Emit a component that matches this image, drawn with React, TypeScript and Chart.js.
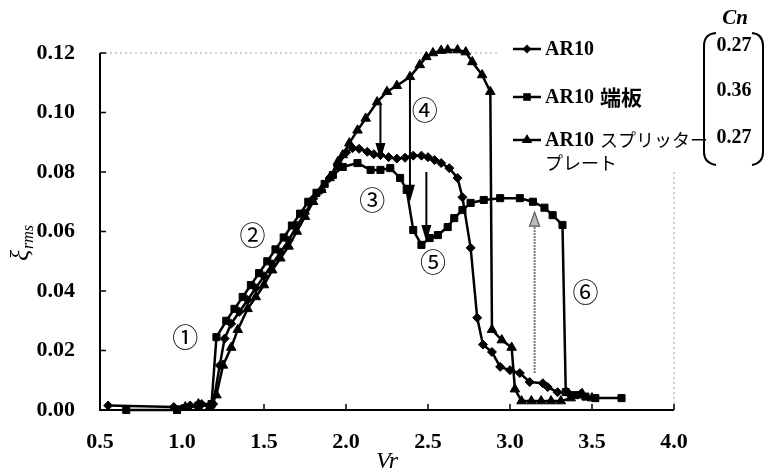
import React, { useEffect, useRef } from "react";
import { Chart, registerables } from "chart.js";

Chart.register(...registerables);

// ---------- data ----------
const arVr = [0.55, 0.95, 1.05, 1.12, 1.19, 1.23, 1.26, 1.3, 1.35, 1.4, 1.45, 1.5, 1.55, 1.6, 1.65, 1.7, 1.75, 1.8, 1.85, 1.9, 1.95, 2.0, 2.04, 2.08, 2.13, 2.17, 2.21, 2.26, 2.31, 2.36, 2.41, 2.46, 2.5, 2.54, 2.58, 2.63, 2.68, 2.71, 2.76, 2.8, 2.835, 2.89, 2.94, 3.0, 3.06, 3.12, 3.2, 3.23, 3.29, 3.35, 3.43];
const arXi = [0.0015, 0.001, 0.0015, 0.002, 0.002, 0.015, 0.024, 0.029, 0.033, 0.037, 0.041, 0.045, 0.049, 0.053, 0.057, 0.062, 0.066, 0.071, 0.074, 0.078, 0.082, 0.0865, 0.088, 0.0878, 0.0868, 0.086, 0.0857, 0.085, 0.0845, 0.0848, 0.0855, 0.0855, 0.085, 0.084, 0.083, 0.0813, 0.078, 0.0715, 0.0545, 0.031, 0.022, 0.0195, 0.0145, 0.0134, 0.0124, 0.0094, 0.009, 0.0077, 0.006, 0.006, 0.0054];

const epVr = [0.66, 0.97, 1.1, 1.18, 1.21, 1.27, 1.32, 1.37, 1.42, 1.47, 1.52, 1.57, 1.62, 1.67, 1.72, 1.77, 1.82, 1.87, 1.92, 1.98, 2.07, 2.15, 2.21, 2.27, 2.33, 2.37, 2.41, 2.46, 2.51, 2.56, 2.62, 2.66, 2.71, 2.76, 2.84, 2.94, 3.06, 3.14, 3.21, 3.26, 3.32, 3.34, 3.4, 3.46, 3.52, 3.68];
const epXi = [0.0, 0.0, 0.0015, 0.002, 0.0245, 0.03, 0.034, 0.038, 0.042, 0.046, 0.05, 0.054, 0.058, 0.062, 0.066, 0.07, 0.073, 0.076, 0.079, 0.0817, 0.083, 0.0807, 0.0807, 0.0813, 0.078, 0.074, 0.0605, 0.0555, 0.0578, 0.0588, 0.0615, 0.0645, 0.0672, 0.0696, 0.0706, 0.0712, 0.0712, 0.07, 0.068, 0.0655, 0.0622, 0.006, 0.005, 0.0045, 0.004, 0.004];

const spVr = [1.02, 1.1, 1.17, 1.21, 1.25, 1.3, 1.34, 1.4, 1.45, 1.5, 1.55, 1.6, 1.65, 1.7, 1.75, 1.8, 1.85, 1.9, 1.95, 1.98, 2.02, 2.07, 2.12, 2.19, 2.25, 2.31, 2.39, 2.45, 2.49, 2.53, 2.58, 2.62, 2.68, 2.73, 2.77, 2.83, 2.88, 2.89, 2.95, 3.01, 3.03, 3.07, 3.13, 3.19, 3.25, 3.31, 3.37, 3.44, 3.5];
const spXi = [0.001, 0.002, 0.001, 0.005, 0.015, 0.021, 0.027, 0.034, 0.038, 0.042, 0.047, 0.051, 0.055, 0.06, 0.065, 0.07, 0.074, 0.078, 0.0834, 0.0857, 0.0897, 0.094, 0.098, 0.1035, 0.107, 0.109, 0.112, 0.116, 0.1187, 0.12, 0.1208, 0.121, 0.121, 0.1203, 0.117, 0.1126, 0.107, 0.027, 0.0235, 0.021, 0.007, 0.003, 0.003, 0.003, 0.003, 0.003, 0.004, 0.0055, 0.004];

const xTicks = [0.5, 1.0, 1.5, 2.0, 2.5, 3.0, 3.5, 4.0];
const yTicks = [0, 0.02, 0.04, 0.06, 0.08, 0.1, 0.12];

const seriesLabels = ["AR10", "AR10 端板", "AR10 スプリッター"];
const seriesLabelLine2 = "プレート";
const cnTitle = "Cn";
const cnValues = ["0.27", "0.36", "0.27"];
const xTitle = "Vr";
const yTitleMain = "ξ";
const yTitleSub = "rms";

// circled annotations (data coordinates)
const circledText = ["①", "②", "③", "④", "⑤", "⑥"];
const circledVr = [1.02, 1.43, 2.16, 2.48, 2.53, 3.46];
const circledXi = [0.0245, 0.0588, 0.0706, 0.1008, 0.0497, 0.0397];

// downward black arrows (data coordinates)
const downArrowVr = [2.21, 2.39, 2.49];
const downArrowFrom = [0.1025, 0.112, 0.08];
const downArrowTo = [0.084, 0.07, 0.0565];
// upward gray arrow
const upArrowVr = [3.15];
const upArrowFrom = [0.0124];
const upArrowTo = [0.0665];

const borderTopEndVr = 2.93;
const borderRightStartXi = 0.08;

const SERIF = "'Liberation Serif', 'Times New Roman', serif";
const CJK = "'Noto Sans CJK JP', sans-serif";

function marker(ctx: CanvasRenderingContext2D, style: string, x: number, y: number) {
  ctx.beginPath();
  if (style === "diamond") {
    const r = 4.5;
    ctx.moveTo(x - r, y); ctx.lineTo(x, y - r); ctx.lineTo(x + r, y); ctx.lineTo(x, y + r);
  } else if (style === "square") {
    const s = 3.8;
    ctx.rect(x - s, y - s, 2 * s, 2 * s);
  } else {
    const r = 6;
    ctx.moveTo(x, y - r); ctx.lineTo(x + r * 0.866, y + r * 0.5); ctx.lineTo(x - r * 0.866, y + r * 0.5);
  }
  ctx.closePath();
  ctx.fill();
}

const decorPlugin = {
  id: "decor",
  beforeDatasetsDraw(chart: any) {
    const { ctx, chartArea, scales } = chart;
    const { left, right, top, bottom } = chartArea;
    const xs = scales.x, ys = scales.y;
    ctx.save();
    ctx.strokeStyle = "#a0a0a0";
    ctx.lineWidth = 1;
    ctx.setLineDash([2, 3]);
    ctx.beginPath();
    ctx.moveTo(left, top); ctx.lineTo(xs.getPixelForValue(borderTopEndVr), top);
    ctx.moveTo(right, ys.getPixelForValue(borderRightStartXi)); ctx.lineTo(right, bottom);
    ctx.stroke();
    ctx.setLineDash([]);
    ctx.strokeStyle = "#000";
    ctx.lineWidth = 2;
    ctx.beginPath();
    ctx.moveTo(left, top); ctx.lineTo(left, bottom); ctx.lineTo(right, bottom);
    ctx.stroke();
    ctx.lineWidth = 1.5;
    ctx.beginPath();
    for (const v of yTicks) { const py = ys.getPixelForValue(v); ctx.moveTo(left, py); ctx.lineTo(left + 6, py); }
    for (const v of xTicks) { const px = xs.getPixelForValue(v); ctx.moveTo(px, bottom); ctx.lineTo(px, bottom - 6); }
    ctx.stroke();
    ctx.restore();
  },
  afterDatasetsDraw(chart: any) {
    const { ctx, chartArea, scales } = chart;
    const { top, bottom } = chartArea;
    const xs = scales.x, ys = scales.y;
    ctx.save();
    // black down arrows
    ctx.strokeStyle = "#000"; ctx.fillStyle = "#000"; ctx.lineWidth = 2;
    downArrowVr.forEach((v, i) => {
      const px = xs.getPixelForValue(v);
      const y0 = ys.getPixelForValue(downArrowFrom[i]);
      const y1 = ys.getPixelForValue(downArrowTo[i]);
      ctx.beginPath(); ctx.moveTo(px, y0); ctx.lineTo(px, y1 - 12); ctx.stroke();
      ctx.beginPath(); ctx.moveTo(px, y1); ctx.lineTo(px - 5, y1 - 17); ctx.lineTo(px + 5, y1 - 17); ctx.closePath(); ctx.fill();
    });
    // gray up arrow
    upArrowVr.forEach((v, i) => {
      const px = xs.getPixelForValue(v);
      const y0 = ys.getPixelForValue(upArrowFrom[i]);
      const y1 = ys.getPixelForValue(upArrowTo[i]);
      ctx.strokeStyle = "#777"; ctx.lineWidth = 2; ctx.setLineDash([2, 1]);
      ctx.beginPath(); ctx.moveTo(px, y0); ctx.lineTo(px, y1 + 12); ctx.stroke();
      ctx.setLineDash([]);
      ctx.fillStyle = "#bbb"; ctx.lineWidth = 1.2; ctx.strokeStyle = "#555";
      ctx.beginPath(); ctx.moveTo(px, y1); ctx.lineTo(px - 5, y1 + 14); ctx.lineTo(px + 5, y1 + 14); ctx.closePath(); ctx.fill(); ctx.stroke();
    });
    // circled numbers
    ctx.fillStyle = "#000";
    ctx.font = `26px ${CJK}`;
    ctx.textAlign = "center"; ctx.textBaseline = "middle";
    circledText.forEach((t, i) => {
      ctx.fillText(t, xs.getPixelForValue(circledVr[i]), ys.getPixelForValue(circledXi[i]));
    });
    // x title
    ctx.font = `italic 24px ${SERIF}`;
    ctx.textAlign = "center"; ctx.textBaseline = "middle";
    ctx.fillText(xTitle, (chartArea.left + chartArea.right) / 2, 462);
    // y title rotated
    ctx.save();
    ctx.translate(24, (top + bottom) / 2 + 12);
    ctx.rotate(-Math.PI / 2);
    ctx.textAlign = "left"; ctx.textBaseline = "middle";
    ctx.font = `italic 26px ${SERIF}`;
    const wMain = ctx.measureText(yTitleMain).width;
    ctx.font = `italic 16px ${SERIF}`;
    const subW = ctx.measureText(yTitleSub).width;
    const start = -(wMain + subW) / 2;
    ctx.font = `italic 26px ${SERIF}`;
    ctx.fillText(yTitleMain, start, -3);
    ctx.font = `italic 16px ${SERIF}`;
    ctx.fillText(yTitleSub, start + wMain + 1, 5);
    ctx.restore();
    // legend
    const legendY = [49, 97, 140];
    const styles = ["diamond", "square", "triangle"];
    ctx.strokeStyle = "#000"; ctx.fillStyle = "#000"; ctx.lineWidth = 2.5;
    legendY.forEach((ly, i) => {
      ctx.beginPath(); ctx.moveTo(513, ly); ctx.lineTo(541, ly); ctx.stroke();
      marker(ctx, styles[i], 527, ly);
      const label = seriesLabels[i];
      const latin = label.split(" ")[0];
      const rest = label.includes(" ") ? label.slice(latin.length + 1) : "";
      ctx.textAlign = "left"; ctx.textBaseline = "middle";
      ctx.font = `bold 20px ${SERIF}`;
      ctx.fillText(latin, 545, ly + 1);
      if (rest) {
        const w = ctx.measureText(latin + " ").width;
        ctx.font = i === 1 ? `bold 21px ${CJK}` : `18px ${CJK}`;
        ctx.fillText(rest, 545 + w + 1, ly);
      }
    });
    ctx.font = `18px ${CJK}`;
    ctx.textAlign = "left"; ctx.textBaseline = "middle";
    ctx.fillText(seriesLabelLine2, 545, 163);
    // Cn bracket
    ctx.font = `italic bold 21px ${SERIF}`;
    ctx.textAlign = "center";
    ctx.fillText(cnTitle, 735, 19);
    ctx.font = `bold 20px ${SERIF}`;
    const cnY = [45, 90, 137];
    cnValues.forEach((t, i) => ctx.fillText(t, 734, cnY[i] + 1));
    ctx.lineWidth = 2;
    ctx.beginPath();
    ctx.moveTo(716, 33); ctx.quadraticCurveTo(704, 34, 704, 46); ctx.lineTo(704, 152); ctx.quadraticCurveTo(704, 163, 716, 165);
    ctx.moveTo(752, 33); ctx.quadraticCurveTo(763, 34, 763, 46); ctx.lineTo(763, 152); ctx.quadraticCurveTo(763, 163, 752, 165);
    ctx.stroke();
    ctx.restore();
  },
};

const toPts = (xs: number[], ys: number[]) => xs.map((x, i) => ({ x, y: ys[i] }));

export default function App() {
  const ref = useRef<HTMLCanvasElement>(null);
  useEffect(() => {
    document.body.style.margin = "0";
    const canvas = ref.current!;
    const common = {
      showLine: true,
      borderColor: "#000",
      backgroundColor: "#000",
      pointBorderColor: "#000",
      pointBackgroundColor: "#000",
      borderWidth: 2.5,
      pointBorderWidth: 1,
      clip: false as any,
      tension: 0,
    };
    const chart = new Chart(canvas, {
      type: "scatter",
      data: {
        datasets: [
          { ...common, label: seriesLabels[0], data: toPts(arVr, arXi), pointStyle: "rectRot", pointRadius: 4.5 },
          { ...common, label: seriesLabels[1], data: toPts(epVr, epXi), pointStyle: "rect", pointRadius: 5 },
          { ...common, label: seriesLabels[2], data: toPts(spVr, spXi), pointStyle: "triangle", pointRadius: 5.5 },
        ],
      },
      options: {
        responsive: false,
        animation: false,
        devicePixelRatio: 1,
        layout: { padding: { top: 53, right: 96, left: 0, bottom: 0 } },
        plugins: { legend: { display: false }, tooltip: { enabled: false } },
        scales: {
          x: {
            type: "linear",
            min: 0.5,
            max: 4.0,
            afterBuildTicks: (s: any) => { s.ticks = xTicks.map((v) => ({ value: v })); },
            afterFit: (s: any) => { s.height = 63; },
            ticks: {
              callback: (v: any) => Number(v).toFixed(1),
              font: { family: SERIF, size: 22, weight: "bold" },
              color: "#000",
              padding: 19,
              maxRotation: 0,
              autoSkip: false,
            },
            grid: { display: false, drawTicks: false },
            border: { display: false },
          },
          y: {
            type: "linear",
            min: 0,
            max: 0.12,
            afterBuildTicks: (s: any) => { s.ticks = yTicks.map((v) => ({ value: v })); },
            afterFit: (s: any) => { s.width = 100; },
            ticks: {
              callback: (v: any) => Number(v).toFixed(2),
              font: { family: SERIF, size: 22, weight: "bold" },
              color: "#000",
              padding: 25,
              autoSkip: false,
            },
            grid: { display: false, drawTicks: false },
            border: { display: false },
          },
        },
      },
      plugins: [decorPlugin],
    } as any);
    return () => chart.destroy();
  }, []);
  return (
    <div style={{ width: 770, height: 473, position: "relative", background: "#fff" }}>
      <canvas ref={ref} width={770} height={473} />
    </div>
  );
}
